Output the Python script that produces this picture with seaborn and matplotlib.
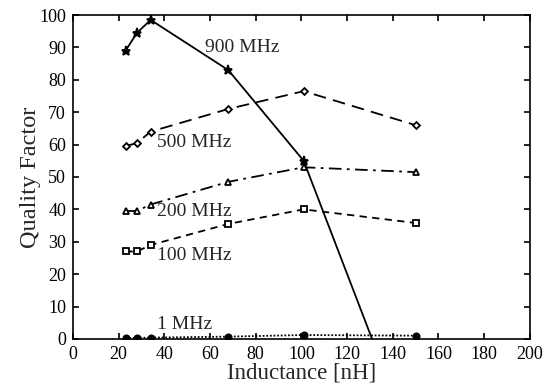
import matplotlib
matplotlib.use("Agg")
import matplotlib.pyplot as plt
import seaborn as sns
import pandas as pd

# Inductance values (nH) and quality factor at each test frequency
inductance = [23, 28, 34, 68, 101, 150]
q_900mhz = [89, 94.5, 98.5, 83, 55, -35]
q_500mhz = [59.5, 60.5, 64, 71, 76.5, 66]
q_200mhz = [39.5, 39.5, 41.5, 48.5, 53, 51.5]
q_100mhz = [27, 27, 29, 35.5, 40, 35.8]
q_1mhz = [0.2, 0.3, 0.4, 0.7, 1.2, 1.0]

series_labels = ["900 MHz", "500 MHz", "200 MHz", "100 MHz", "1 MHz"]
label_pos = [(58, 90), (37, 60.8), (37, 39.2), (37, 25.9), (37, 4.3)]
x_ticks = list(range(0, 201, 20))
y_ticks = list(range(0, 101, 10))

sns.set_style("ticks")
plt.rcParams.update({
    "font.family": ["Liberation Serif", "DejaVu Serif"],
    "xtick.direction": "in",
    "ytick.direction": "in",
    "xtick.top": True,
    "ytick.right": True,
    "axes.linewidth": 1.2,
    "xtick.major.width": 1.2,
    "ytick.major.width": 1.2,
    "xtick.major.size": 4,
    "ytick.major.size": 4,
})

fig = plt.figure(figsize=(5.53, 3.86), dpi=100)
ax = fig.add_axes([0.132, 0.122, 0.826, 0.839])

df = pd.DataFrame({
    "L": inductance,
    "900 MHz": q_900mhz,
    "500 MHz": q_500mhz,
    "200 MHz": q_200mhz,
    "100 MHz": q_100mhz,
    "1 MHz": q_1mhz,
})

styles = {
    "900 MHz": dict(linestyle="-", marker="*", markersize=6.5, markerfacecolor="black"),
    "500 MHz": dict(linestyle=(0, (7, 4)), marker="D", markersize=3.5, markerfacecolor="white"),
    "200 MHz": dict(linestyle=(0, (7, 3, 1.5, 3)), marker="^", markersize=4.5, markerfacecolor="white"),
    "100 MHz": dict(linestyle=(0, (4, 3)), marker="s", markersize=4, markerfacecolor="white"),
    "1 MHz": dict(linestyle=(0, (1, 1)), marker="o", markersize=4.5, markerfacecolor="black"),
}

for name in series_labels:
    sns.lineplot(data=df, x="L", y=name, ax=ax, color="black", linewidth=1.3,
                 markeredgecolor="black", markeredgewidth=1.3, sort=False,
                 **styles[name])

for name, (tx, ty) in zip(series_labels, label_pos):
    ax.text(tx, ty, name, fontsize=14, ha="left", va="center")

ax.set_xlim(0, 200)
ax.set_ylim(0, 100)
ax.set_xticks(x_ticks)
ax.set_yticks(y_ticks)
ax.tick_params(labelsize=13, pad=5, colors="black")
ax.set_xlabel("Inductance [nH]", fontsize=16.5, labelpad=0)
ax.set_ylabel("Quality Factor", fontsize=17.5)
ax.yaxis.set_label_coords(-0.07, 0.5)
for sp in ax.spines.values():
    sp.set_color("black")

fig.savefig("out.png", dpi=100)
